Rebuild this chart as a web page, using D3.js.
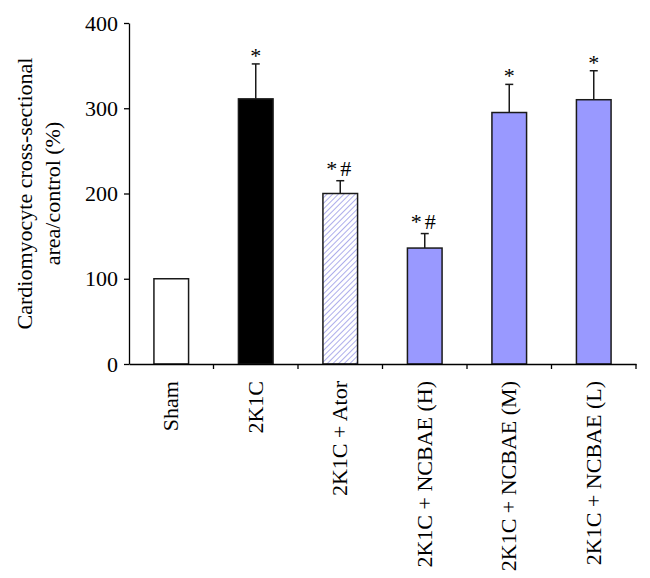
<!DOCTYPE html>
<html><head><meta charset="utf-8">
<script src="https://cdn.jsdelivr.net/npm/d3@7"></script>
<style>body{margin:0;background:#fff}svg{display:block}</style>
</head><body><svg id="c" width="650" height="578"></svg>
<script>
const categories = ["Sham","2K1C","2K1C + Ator","2K1C + NCBAE (H)","2K1C + NCBAE (M)","2K1C + NCBAE (L)"];
const values = [100, 311, 200, 136, 295, 310];
const errors = [0, 41, 15, 17, 33, 34];
const marks = ["", "*", "*#", "*#", "*", "*"];
const yTicks = [0,100,200,300,400];
const fills = ["white","black","hatch","blue","blue","blue"];

const svg = d3.select("#c");
const font = "'Liberation Serif', 'Times New Roman', serif";
const L = 129, R = 636, T = 23, B = 364;
const x = d3.scaleBand().domain(categories).range([L,R]).paddingInner(0.59).paddingOuter(0.295);
const y = d3.scaleLinear().domain([0,400]).range([B,T]);

const defs = svg.append("defs");
const pat = defs.append("pattern").attr("id","hatch").attr("patternUnits","userSpaceOnUse")
  .attr("width",4).attr("height",4).attr("patternTransform","rotate(45)");
pat.append("rect").attr("width",4).attr("height",4).attr("fill","white");
pat.append("line").attr("x1",0).attr("y1",0).attr("x2",0).attr("y2",4).attr("stroke","#9a9ae6").attr("stroke-width",1.6);

const fillOf = f => f==="hatch" ? "url(#hatch)" : f==="blue" ? "#9999ff" : f;

svg.selectAll("rect.bar").data(categories).join("rect").attr("class","bar")
  .attr("x", d=>x(d)).attr("width", x.bandwidth())
  .attr("y", (d,i)=>y(values[i])).attr("height",(d,i)=>y(0)-y(values[i]))
  .attr("fill",(d,i)=>fillOf(fills[i])).attr("stroke","#1a1a1a").attr("stroke-width",1.5);

// error bars
const eb = svg.append("g").attr("stroke","#1a1a1a").attr("stroke-width",1.5);
categories.forEach((c,i)=>{
  if(!errors[i]) return;
  const cx = x(c)+x.bandwidth()/2;
  eb.append("line").attr("x1",cx).attr("x2",cx).attr("y1",y(values[i])).attr("y2",y(values[i]+errors[i]));
  eb.append("line").attr("x1",cx-4).attr("x2",cx+4).attr("y1",y(values[i]+errors[i])).attr("y2",y(values[i]+errors[i]));
});
// significance marks
svg.selectAll("text.mk").data(categories).join("text").attr("class","mk")
  .attr("x", d=>x(d)+x.bandwidth()/2)
  .attr("y",(d,i)=>y(values[i]+errors[i]) - (marks[i].length>1 ? 5 : 1))
  .attr("text-anchor","middle").attr("font-family",font).attr("font-size",22)
  .attr("letter-spacing",(d,i)=>marks[i].length>1 ? 3 : 0)
  .text((d,i)=>marks[i]);

// y axis
const ya = svg.append("g").attr("transform",`translate(${L},0)`)
  .call(d3.axisLeft(y).tickValues(yTicks).tickSize(5).tickPadding(6).tickSizeOuter(0));
ya.selectAll("text").attr("font-family",font).attr("font-size",22).attr("fill","#000");
ya.selectAll("line,path").attr("stroke","#000").attr("stroke-width",1.3);

// x axis
const xa = svg.append("g").attr("transform",`translate(0,${B})`)
  .call(d3.axisBottom(x).tickSize(0).tickPadding(0).tickSizeOuter(0));
xa.select("path").attr("stroke","#000").attr("stroke-width",1.3);
xa.selectAll("text").attr("font-family",font).attr("font-size",22).attr("fill","#000")
  .attr("text-anchor","end").attr("transform","rotate(-90)")
  .attr("x",-17).attr("y",0).attr("dy","0.32em");
const gap = (x.step()-x.bandwidth())/2;
const bounds = categories.map(c=>x(c)+x.bandwidth()+gap);
xa.selectAll("line.bt").data(bounds).join("line").attr("class","bt")
  .attr("x1",d=>d).attr("x2",d=>d).attr("y1",0).attr("y2",5).attr("stroke","#000").attr("stroke-width",1.3);

// y label
const yl = svg.append("text").attr("font-family",font).attr("font-size",22).attr("fill","#000")
  .attr("text-anchor","middle").attr("transform",`translate(32,${(T+B)/2}) rotate(-90)`);
yl.append("tspan").attr("x",0).attr("dy",0).text("Cardiomyocyte cross-sectional");
yl.append("tspan").attr("x",0).attr("dy",28).text("area/control (%)");
</script></body></html>
